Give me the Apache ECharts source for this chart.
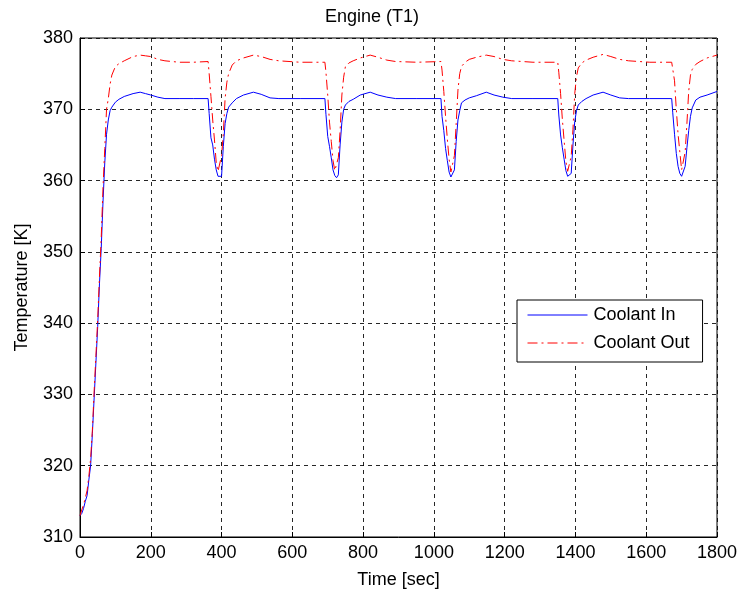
<!DOCTYPE html>
<html><head><meta charset="utf-8">
<script src="https://cdn.jsdelivr.net/npm/echarts@6/dist/echarts.min.js"></script>
<style>html,body{margin:0;padding:0;background:#fff}#c{width:744px;height:598px}</style>
</head><body><div id="c"></div>
<script>
const title = 'Engine (T1)';
const seriesNames = ['Coolant In', 'Coolant Out'];
const xTicks = [0, 200, 400, 600, 800, 1000, 1200, 1400, 1600, 1800];
const yTicks = [310, 320, 330, 340, 350, 360, 370, 380];

const time = [
  0,5,10,15,20,25,30,35,40,45,50,55,60,65,70,75,80,85,90,100,110,125,150,170,185,200,220,240,280,320,
  362,365,370,375,380,385,390,395,400,405,410,415,420,430,442,462,490,512,537,562,622,
  692,695,700,705,710,715,720,725,730,735,740,745,750,760,772,792,820,842,867,892,952,
  1020,1023,1028,1033,1038,1043,1048,1053,1058,1063,1068,1073,1078,1088,1100,1120,1148,1170,1195,1220,1280,
  1350,1353,1358,1363,1368,1373,1378,1383,1388,1393,1398,1403,1408,1418,1430,1450,1478,1500,1525,1550,1610,
  1672,1675,1680,1685,1690,1695,1700,1705,1710,1715,1720,1725,1730,1740,1752,1772,1800
];
const coolantIn = [
  313.0,313.3,314.0,315.0,315.8,318.0,320.0,324.5,329.5,334.5,339.5,345.5,350.5,357.0,362.5,366.5,368.5,369.8,370.3,371.0,371.4,371.8,372.2,372.4,372.2,372.0,371.7,371.5,371.5,371.5,
  371.5,369.4,366.0,365.0,363.0,361.5,360.6,360.4,360.6,364.8,368.0,369.4,370.3,370.9,371.5,372.0,372.4,372.1,371.6,371.5,371.5,
  371.5,369.3,366.2,364.8,363.2,361.5,360.7,360.4,360.8,365.0,368.2,370.0,370.6,371.1,371.4,372.0,372.4,372.0,371.7,371.5,371.5,
  371.5,369.0,367.0,364.5,362.8,361.2,360.5,360.4,361.5,365.5,368.5,369.8,370.9,371.3,371.6,371.9,372.4,372.0,371.7,371.5,371.5,
  371.5,369.2,366.4,364.6,363.0,361.4,360.6,360.4,361.0,365.0,368.3,369.8,370.6,371.1,371.5,372.0,372.4,372.0,371.6,371.5,371.5,
  371.5,369.5,366.5,363.8,362.0,361.0,360.6,360.4,362.0,364.6,367.0,369.0,370.2,371.3,371.7,372.0,372.5
];
const coolantOut = [
  313.0,313.8,314.5,315.5,316.5,318.5,321.0,325.0,330.5,335.5,340.5,346.5,352.0,359.0,364.5,370.0,371.5,373.5,374.8,376.0,376.4,376.8,377.4,377.6,377.5,377.4,377.0,376.8,376.6,376.6,
  376.7,375.0,371.8,368.5,365.7,362.5,361.3,361.2,363.5,366.6,371.5,373.8,375.0,376.2,376.8,377.2,377.6,377.4,377.0,376.8,376.6,
  376.6,375.2,372.0,368.2,365.5,362.8,361.4,361.2,363.2,367.0,372.0,374.5,376.0,376.5,376.8,377.2,377.6,377.3,376.9,376.7,376.6,
  376.7,375.5,372.5,369.0,365.8,363.0,361.2,361.0,363.5,368.0,372.7,375.0,376.0,376.6,377.0,377.3,377.6,377.4,377.0,376.8,376.6,
  376.6,375.2,372.2,368.6,365.6,362.7,361.3,361.1,363.4,367.2,372.2,374.6,375.8,376.5,376.9,377.3,377.7,377.4,377.0,376.8,376.6,
  376.6,376.4,374.0,370.0,366.5,364.0,361.5,361.6,364.0,368.0,372.5,374.8,375.6,376.3,376.7,377.2,377.6
];

const font = 'Liberation Sans, Arial, sans-serif';
const fs = 18;
const chart = echarts.init(document.getElementById('c'), null, {renderer: 'canvas'});
const gridLine = {show: true, lineStyle: {color: '#000', type: [4, 4], width: 1, opacity: 0.85}};
chart.setOption({
  animation: false,
  backgroundColor: '#fff',
  title: {text: title, left: 'center', top: 3, textStyle: {fontFamily: font, fontSize: fs, fontWeight: 'normal', color: '#000'}},
  grid: {left: 80, right: 27, top: 38, bottom: 61, show: true, borderColor: '#000', borderWidth: 1, backgroundColor: 'transparent'},
  legend: {
    orient: 'vertical', left: 517, top: 300, data: seriesNames,
    backgroundColor: '#fff', borderColor: '#000', borderWidth: 1,
    padding: [6, 13, 10, 10], itemGap: 10, itemWidth: 60, itemHeight: 18,
    itemStyle: {opacity: 0},
    lineStyle: {width: 1},
    textStyle: {fontFamily: font, fontSize: fs, color: '#000', padding: [0, 0, 0, 1]}
  },
  xAxis: {
    type: 'value', min: 0, max: 1800, interval: 200,
    name: 'Time [sec]', nameLocation: 'middle', nameGap: 34,
    nameTextStyle: {fontFamily: font, fontSize: fs, color: '#000'},
    axisLine: {show: true, lineStyle: {color: '#000'}},
    axisTick: {show: true, inside: true, length: 5, lineStyle: {color: '#000'}},
    axisLabel: {fontFamily: font, fontSize: fs, color: '#000', margin: 7, formatter: v => xTicks.includes(v) ? String(v) : ''},
    splitLine: gridLine
  },
  yAxis: {
    type: 'value', min: 310, max: 380, interval: 10,
    name: 'Temperature [K]', nameLocation: 'middle', nameGap: 49,
    nameTextStyle: {fontFamily: font, fontSize: fs, color: '#000'},
    axisLine: {show: true, lineStyle: {color: '#000'}},
    axisTick: {show: true, inside: true, length: 5, lineStyle: {color: '#000'}},
    axisLabel: {fontFamily: font, fontSize: fs, color: '#000', margin: 7, formatter: v => yTicks.includes(v) ? String(v) : ''},
    splitLine: gridLine
  },
  series: [
    {name: seriesNames[0], type: 'line', data: time.map((t, i) => [t, coolantIn[i]]), showSymbol: false, symbol: 'none',
     lineStyle: {color: '#0000ff', width: 1}, itemStyle: {color: '#0000ff'}, z: 3},
    {name: seriesNames[1], type: 'line', data: time.map((t, i) => [t, coolantOut[i]]), showSymbol: false, symbol: 'none',
     lineStyle: {color: '#ff0000', width: 1, type: [10, 4, 2, 4]}, itemStyle: {color: '#ff0000'}, z: 4}
  ]
});
</script></body></html>
